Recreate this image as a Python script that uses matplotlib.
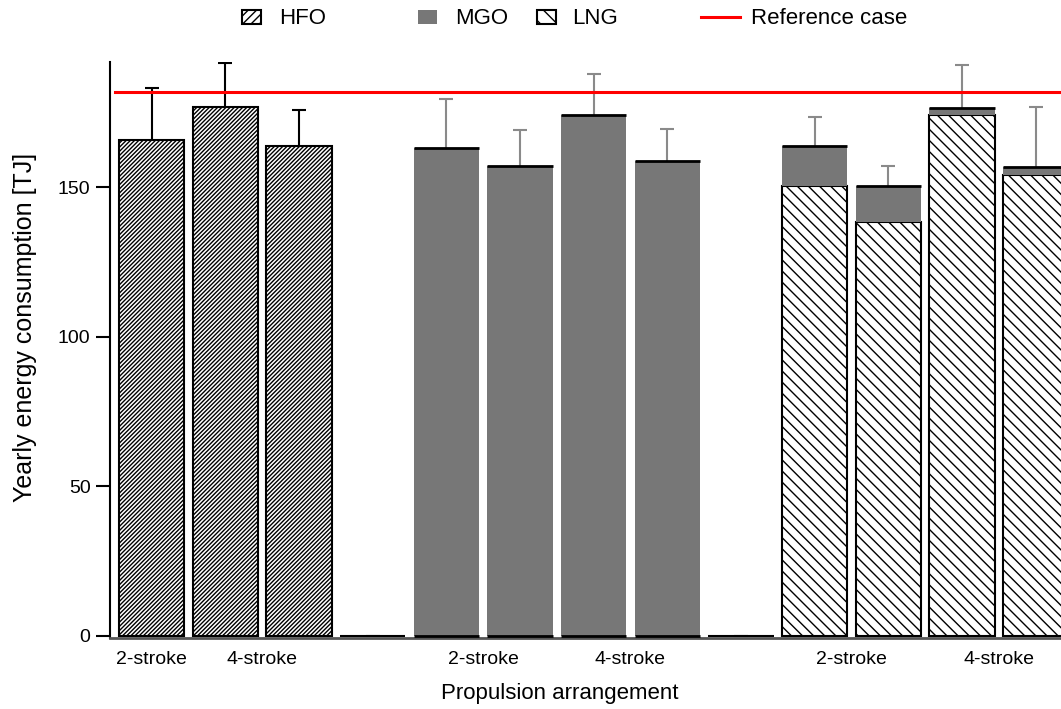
import matplotlib
matplotlib.use("Agg")
import matplotlib.pyplot as plt
import numpy as np
from matplotlib.patches import Patch
from matplotlib.lines import Line2D

plt.rcParams['font.family'] = ['Liberation Sans', 'DejaVu Sans']
plt.rcParams['hatch.linewidth'] = 1.0

# ---------------- data ----------------
fuels = ["HFO", "MGO", "LNG"]

hfo_engine = ["2-stroke", "4-stroke", "4-stroke"]
hfo_energy = [166.0, 176.9, 163.9]
hfo_upper = [183.4, 191.5, 176.0]

mgo_engine = ["2-stroke", "2-stroke", "4-stroke", "4-stroke"]
mgo_energy = [163.3, 157.3, 174.1, 159.0]
mgo_upper = [179.6, 169.2, 188.1, 169.5]

lng_engine = ["2-stroke", "2-stroke", "4-stroke", "4-stroke"]
lng_energy = [150.6, 138.3, 174.3, 154.2]
lng_pilot_mgo = [13.4, 12.3, 2.4, 2.5]
lng_upper = [173.5, 157.3, 191.1, 177.0]

spacer_values = [0.0, 0.0]
reference_case = 182.0

# ---------------- layout ----------------
n_h, n_m, n_l = len(hfo_energy), len(mgo_energy), len(lng_energy)
x_h = np.arange(n_h)
x_s1 = n_h
x_m = np.arange(n_m) + n_h + 1
x_s2 = n_h + 1 + n_m
x_l = np.arange(n_l) + x_s2 + 1
x_sp = np.array([x_s1, x_s2])
w = 0.887

fig = plt.figure(figsize=(10.61, 7.09), dpi=100)
ax = fig.add_axes([0.1037, 0.1001, 0.8963, 0.8125])

GRAY = "#777777"
EGRAY = "#8a8a8a"
HFO_HATCH = "////////"
LNG_HATCH = "\\\\\\"
ekw = dict(fmt="none", elinewidth=1.5, capsize=4.7, capthick=1.5, zorder=1)

# HFO
he = np.array(hfo_energy)
ax.bar(x_h, he, w, color="white", edgecolor="black", hatch=HFO_HATCH, lw=1.5, zorder=2)
ax.errorbar(x_h, he, yerr=[he, np.array(hfo_upper) - he], ecolor="black", **ekw)

# spacers
sv = np.array(spacer_values)
ax.bar(x_sp, sv, w, color="none", edgecolor="black", lw=1.5, zorder=2)
ax.errorbar(x_sp, sv, yerr=[sv, sv], ecolor=EGRAY, **ekw)

# MGO
me = np.array(mgo_energy)
ax.bar(x_m, me, w, color=GRAY, edgecolor="none", zorder=2)
ax.hlines(me, x_m - w / 2, x_m + w / 2, color="black", lw=2, zorder=3)
ax.hlines(np.zeros(n_m), x_m - w / 2, x_m + w / 2, color="black", lw=2, zorder=3)
ax.errorbar(x_m, me, yerr=[me, np.array(mgo_upper) - me], ecolor=EGRAY, **ekw)

# LNG (stacked with pilot MGO)
le = np.array(lng_energy)
lp = np.array(lng_pilot_mgo)
lt = le + lp
ax.bar(x_l, le, w, color="white", edgecolor="black", hatch=LNG_HATCH, lw=1.5, zorder=2)
ax.bar(x_l, lp, w, bottom=le, color=GRAY, edgecolor="none", zorder=2)
ax.hlines(lt, x_l - w / 2, x_l + w / 2, color="black", lw=2, zorder=3)
ax.errorbar(x_l, lt, yerr=[lt, np.array(lng_upper) - lt], ecolor=EGRAY, **ekw)

# reference line
ax.plot([-0.5, x_l[-1] + 1], [reference_case, reference_case], color="red", lw=2.2, zorder=4)

# axes
ax.set_xlim(-0.566, 12.346)
ax.set_ylim(-0.8, 192)
for s in ["top", "right"]:
    ax.spines[s].set_visible(False)
ax.spines["left"].set_linewidth(1.5)
ax.spines["bottom"].set_linewidth(2)
ax.spines["bottom"].set_color("#555555")

ax.set_yticks([0, 50, 100, 150])
ax.tick_params(axis="y", length=10, width=1.5, pad=4, labelsize=14)

tick_pos, tick_lab = [], []
for xs, engines in [(x_h, hfo_engine), (x_m, mgo_engine), (x_l, lng_engine)]:
    for eng in dict.fromkeys(engines):
        pos = [x for x, e in zip(xs, engines) if e == eng]
        tick_pos.append(np.mean(pos))
        tick_lab.append(eng)
ax.set_xticks(tick_pos)
ax.set_xticklabels(tick_lab)
ax.tick_params(axis="x", length=0, pad=9, labelsize=14)

fig.text(560 / 1061, 1 - 693 / 709, "Propulsion arrangement", ha="center", va="center", fontsize=16)
fig.text(25 / 1061, 1 - 327 / 709, "Yearly energy consumption [TJ]", ha="center", va="center",
         rotation=90, fontsize=18)

# legend entries
ly = 1 - 19 / 709
entries = [
    (242, Patch(facecolor="white", edgecolor="black", hatch="////", lw=1.5), fuels[0], 0.86, 0.8),
    (418, Patch(facecolor=GRAY, edgecolor="none"), fuels[1], 0.86, 0.8),
    (537, Patch(facecolor="white", edgecolor="black", hatch="\\\\", lw=1.5), fuels[2], 0.86, 0.7),
    (701, Line2D([0], [0], color="red", lw=2.2), "Reference case", 1.76, 0.5),
]
for xp, h, lab, hl, tp in entries:
    fig.legend([h], [lab], loc="center left", bbox_to_anchor=(xp / 1061, ly), frameon=False,
               fontsize=16, handlelength=hl, handleheight=0.6, handletextpad=tp,
               borderpad=0, borderaxespad=0)

fig.savefig("out.png", dpi=100)
